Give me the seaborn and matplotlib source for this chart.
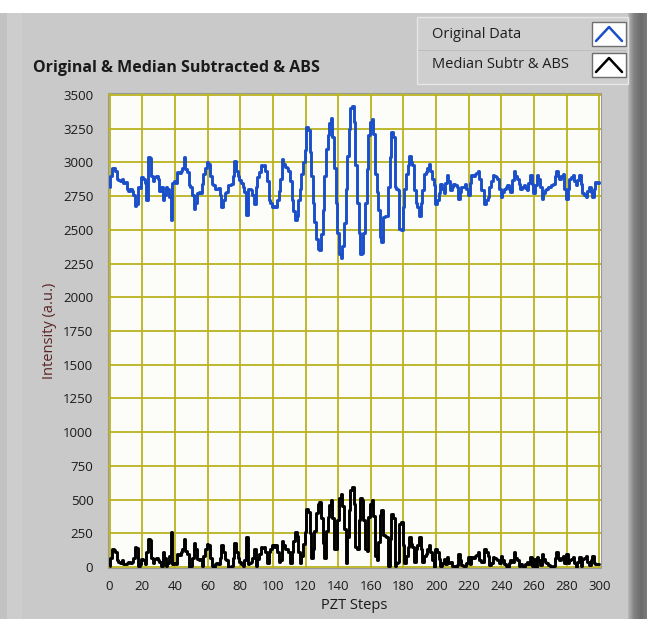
import numpy as np
import pandas as pd
import matplotlib
matplotlib.use("Agg")
import matplotlib.pyplot as plt
import seaborn as sns
from matplotlib.patches import Rectangle
from matplotlib.lines import Line2D

# ---- data -----------------------------------------------------------------
steps = list(range(0, 301))

original = [
    2820, 2900, 2960, 2955, 2940, 2880, 2870, 2860, 2880, 2850,
    2855, 2800, 2790, 2800, 2790, 2760, 2680, 2690, 2820, 2810,
    2890, 2880, 2850, 2720, 3040, 3030, 2900, 2860, 2890, 2900,
    2880, 2790, 2820, 2720, 2760, 2820, 2800, 2745, 2570, 2850,
    2860, 2850, 2930, 2920, 2940, 2960, 3040, 2950, 2930, 2830,
    2820, 2760, 2655, 2700, 2770, 2780, 2770, 2840, 2915, 2960,
    3000, 2990, 2900, 2840, 2830, 2805, 2800, 2810, 2760, 2670,
    2720, 2770, 2780, 2830, 2830, 2840, 2900, 3010, 2940, 2900,
    2870, 2850, 2820, 2780, 2610, 2805, 2800, 2795, 2760, 2695,
    2820, 2890, 2930, 2980, 2970, 2980, 2940, 2860, 2720, 2700,
    2670, 2680, 2670, 2720, 2790, 2880, 3025, 2990, 2965, 2960,
    2940, 2860, 2720, 2640, 2570, 2600, 2720, 2800, 2915, 3000,
    3090, 3260, 3240, 3080, 2900, 2700, 2560, 2430, 2360, 2350,
    2470, 2650, 2900, 3100, 3200, 3290, 3330, 3190, 2960, 2700,
    2480, 2320, 2290, 2380, 2550, 2800, 3050, 3250, 3400, 3420,
    3300, 2980, 2700, 2480, 2320, 2330, 2480, 2700, 2950, 3200,
    3300, 3325, 3210, 2915, 2780, 2645, 2445, 2410, 2595, 2600,
    2605, 2820, 3040, 3225, 3190, 2820, 2800, 2795, 2510, 2500,
    2670, 2800, 2915, 2980, 3050, 3000, 2980, 2795, 2700, 2670,
    2605, 2700, 2795, 2915, 2930, 2960, 2990, 2940, 2880, 2830,
    2695, 2720, 2770, 2840, 2800, 2770, 2850, 2905, 2860, 2795,
    2820, 2840, 2830, 2815, 2730, 2780, 2815, 2820, 2840, 2800,
    2755, 2850, 2905, 2900, 2915, 2920, 2940, 2880, 2795, 2795,
    2695, 2720, 2745, 2815, 2860, 2905, 2900, 2890, 2880, 2800,
    2745, 2780, 2805, 2820, 2830, 2800, 2780, 2870, 2940, 2900,
    2880, 2840, 2805, 2820, 2830, 2810, 2795, 2850, 2905, 2840,
    2770, 2830, 2905, 2880, 2815, 2730, 2770, 2795, 2800, 2815,
    2820, 2830, 2840, 2900, 2940, 2900, 2880, 2900, 2915, 2800,
    2730, 2800, 2880, 2890, 2905, 2860, 2830, 2870, 2905, 2840,
    2770, 2760, 2745, 2790, 2815, 2780, 2745, 2800, 2855, 2850,
    2855,
]

# second trace: the original with its median removed, then rectified
original_arr = np.asarray(original, dtype=float)
median_abs = np.abs(original_arr - np.median(original_arr))

x_ticks = list(range(0, 301, 20))
y_ticks = list(range(0, 3501, 250))

title = "Original & Median Subtracted & ABS"
legend_labels = ["Original Data", "Median Subtr & ABS"]
x_label = "PZT Steps"
y_label = "Intensity (a.u.)"

BLUE = "#1a4fc9"
BLACK = "#000000"
GRID = "#bab21e"
PANEL = "#c9c9c9"

# ---- figure ---------------------------------------------------------------
sns.set_theme(style="white")
plt.rcParams["font.family"] = ["Open Sans", "DejaVu Sans"]

W, H = 647, 619
fig = plt.figure(figsize=(W / 100, H / 100), dpi=100, facecolor=PANEL)


def fx(x):
    return x / W


def fy(y):
    return 1 - y / H


def rect_px(x0, y0, x1, y1, **kw):
    r = Rectangle((fx(x0), fy(y1)), (x1 - x0) / W, (y1 - y0) / H,
                  transform=fig.transFigure, **kw)
    fig.add_artist(r)
    return r


# window frame pieces
rect_px(0, 0, W, 13, facecolor="white", edgecolor="none", zorder=0)
rect_px(0, 13, 7, H, facecolor="#c2c2c2", edgecolor="none", zorder=0)
rect_px(7, 13, 22, H, facecolor="#cdcdcd", edgecolor="none", zorder=0)

grad_ax = fig.add_axes([fx(628), 0, (W - 628) / W, fy(13)])
grad = np.linspace(0, 1, 64)
grad_img = np.vstack([np.interp(grad, [0, 0.3, 0.7, 1], [0.72, 0.52, 0.42, 0.48])] * 2)
grad_ax.imshow(grad_img, cmap="gray", vmin=0, vmax=1, aspect="auto")
grad_ax.set_axis_off()

# ---- plot area --------------------------------------------------------------
ax_l, ax_r, ax_t, ax_b = 108, 601, 93, 568
ax = fig.add_axes([fx(ax_l), fy(ax_b), (ax_r - ax_l) / W, (ax_b - ax_t) / H])
ax.set_facecolor("#fcfcf8")
ax.patch.set_edgecolor("#9a9a9a")
ax.patch.set_linewidth(0.8)

df = pd.DataFrame({"step": steps, "original": original_arr, "abs": median_abs})
sns.lineplot(data=df, x="step", y="original", ax=ax, color=BLUE, lw=2.1,
             drawstyle="steps-mid", legend=False, zorder=3)
sns.lineplot(data=df, x="step", y="abs", ax=ax, color=BLACK, lw=2.1,
             drawstyle="steps-mid", legend=False, zorder=3)

ax.set_xlim(-0.92, 300.92)
ax.set_ylim(-7.4, 3514.8)
ax.set_xticks(x_ticks)
ax.set_yticks(y_ticks)
ax.grid(True, color=GRID, lw=1.3)
ax.set_axisbelow(True)

# scale ticks sit a little away from the plotting area
ax.spines["left"].set_position(("outward", 5.5))
ax.spines["bottom"].set_position(("outward", 1.5))
for s in ax.spines.values():
    s.set_visible(False)
ax.tick_params(axis="y", direction="out", length=3.6, width=1,
               color="#333333", labelsize=9.5, labelcolor="#1a1a1a", pad=1.5)
ax.tick_params(axis="x", direction="out", length=4.5, width=1,
               color="#333333", labelsize=9.5, labelcolor="#1a1a1a", pad=2.5)
ax.set_xlabel(x_label, fontsize=10.5, color="#1a1a1a", labelpad=4)
ax.set_ylabel(y_label, fontsize=10.5, color="#5a2424", labelpad=4)

# ---- title -----------------------------------------------------------------
fig.text(fx(33), fy(68), title, fontsize=11.5, fontweight="bold",
         color="#1a1a1a", ha="left", va="center")

# ---- legend box -------------------------------------------------------------
rect_px(417, 17, 628, 84, facecolor="#cfcfcf", edgecolor="#e6e6e6",
        lw=1.0, zorder=1)
rect_px(418, 50, 627, 51, facecolor="#bdbdbd", edgecolor="none", zorder=1)
rows = [(34, BLUE), (65, BLACK)]
for (cy, col), lab in zip(rows, legend_labels):
    fig.text(fx(432), fy(cy), lab, fontsize=10.5, color="#1e1e1e",
             ha="left", va="center")
    rect_px(592, cy - 12, 626, cy + 12, facecolor="white",
            edgecolor="#6e6e6e", lw=1.0, zorder=2)
    fig.add_artist(Line2D([fx(596), fx(609), fx(622)],
                          [fy(cy + 7), fy(cy - 7), fy(cy + 7)],
                          transform=fig.transFigure, color=col, lw=1.8,
                          zorder=3))

fig.savefig("out.png", dpi=100, facecolor=fig.get_facecolor())
